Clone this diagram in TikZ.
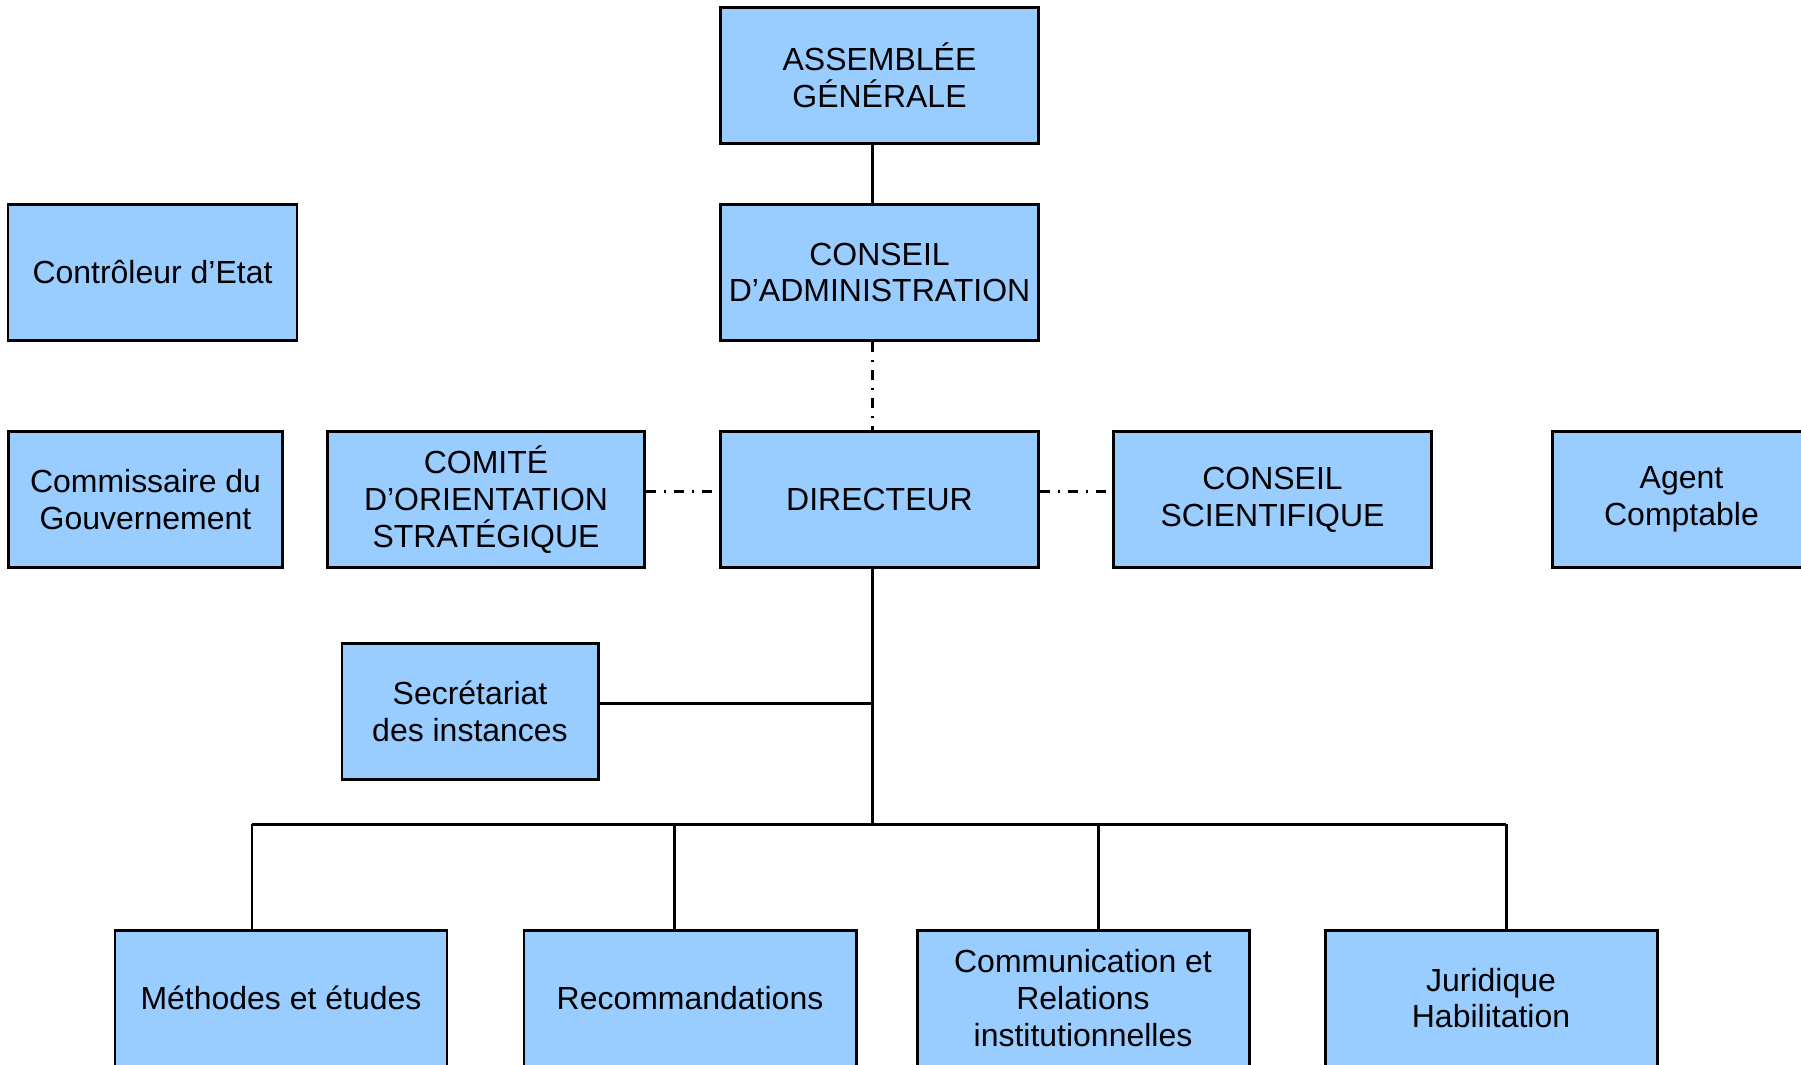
\documentclass[tikz,border=0pt]{standalone}
\usepackage{fontspec}
\setmainfont{Liberation Sans}
\usepackage{tikz}
\usetikzlibrary{positioning}
\definecolor{boxblue}{RGB}{153,204,255}
\tikzstyle{unit}=[rectangle, draw=black, fill=boxblue, line width=0.85pt, inner sep=1pt, minimum width=3.18cm, minimum height=1.36cm, align=center, font=\fontsize{9.1}{10.5}\selectfont]
\tikzstyle{link}=[line width=0.85pt]
\tikzstyle{dlink}=[line width=0.85pt, dash pattern=on 2.8pt off 2.3pt on 0.6pt off 2.3pt]

\begin{document}
\begin{tikzpicture}[node distance=1cm]
  \clip (0,0) rectangle (18.01,-10.64);
%
  \node[unit] (ag) at (8.795,-0.755) {ASSEMBLÉE\\GÉNÉRALE};
  \node[unit] (ca) [below = 0.58cm of ag] {CONSEIL\\D’ADMINISTRATION};
  \node[unit] (dir) [below = 0.88cm of ca] {DIRECTEUR};
  \node[unit, minimum width=3.17cm] (cos) [left = 0.73cm of dir] {COMITÉ\\D’ORIENTATION\\STRATÉGIQUE};
  \node[unit] (cs) [right = 0.72cm of dir] {CONSEIL\\SCIENTIFIQUE};
  \node[unit, minimum width=2.58cm] (agent) [right = 1.18cm of cs] {Agent\\Comptable};
  \node[unit, minimum width=2.74cm] (comm) [left = 0.42cm of cos] {Commissaire du\\Gouvernement};
  \node[unit, minimum width=2.89cm] (ctrl) at (1.525,-2.72) {Contrôleur d’Etat};
  \node[unit, minimum width=2.56cm] (sec) at (4.70,-7.11) {Secrétariat\\des instances};
%
  \node[unit, minimum width=3.32cm] (me) at (2.81,-9.98) {Méthodes et études};
  \node[unit, minimum width=3.32cm] (rec) at (6.90,-9.98) {Recommandations};
  \node[unit, minimum width=3.32cm] (cri) at (10.83,-9.98) {Communication et\\Relations\\institutionnelles};
  \node[unit, minimum width=3.32cm] (jur) at (14.91,-9.98) {Juridique\\Habilitation};
%
  \coordinate (spine) at (8.72,-8.24);
  \coordinate (b1) at (2.52,-8.24);
  \coordinate (b2) at (6.74,-8.24);
  \coordinate (b3) at (10.98,-8.24);
  \coordinate (b4) at (15.06,-8.24);
%
  \draw[link] (ag.south -| spine) -- (ca.north -| spine);
  \draw[dlink] (ca.south -| spine) -- (dir.north -| spine);
  \draw[dlink] ([yshift=0.08cm]cos.east) -- ([yshift=0.08cm]dir.west);
  \draw[dlink] ([yshift=0.08cm]dir.east) -- ([yshift=0.08cm]cs.west);
  \draw[link] (dir.south -| spine) -- (spine);
  \draw[link] ([yshift=0.08cm]sec.east) -- ([yshift=0.08cm]sec.east -| spine);
  \draw[link] (b1) -- (b4);
%
  \draw[link] (b1) -- (b1 |- me.north);
  \draw[link] (b2) -- (b2 |- rec.north);
  \draw[link] (b3) -- (b3 |- cri.north);
  \draw[link] (b4) -- (b4 |- jur.north);
\end{tikzpicture}
\end{document}
